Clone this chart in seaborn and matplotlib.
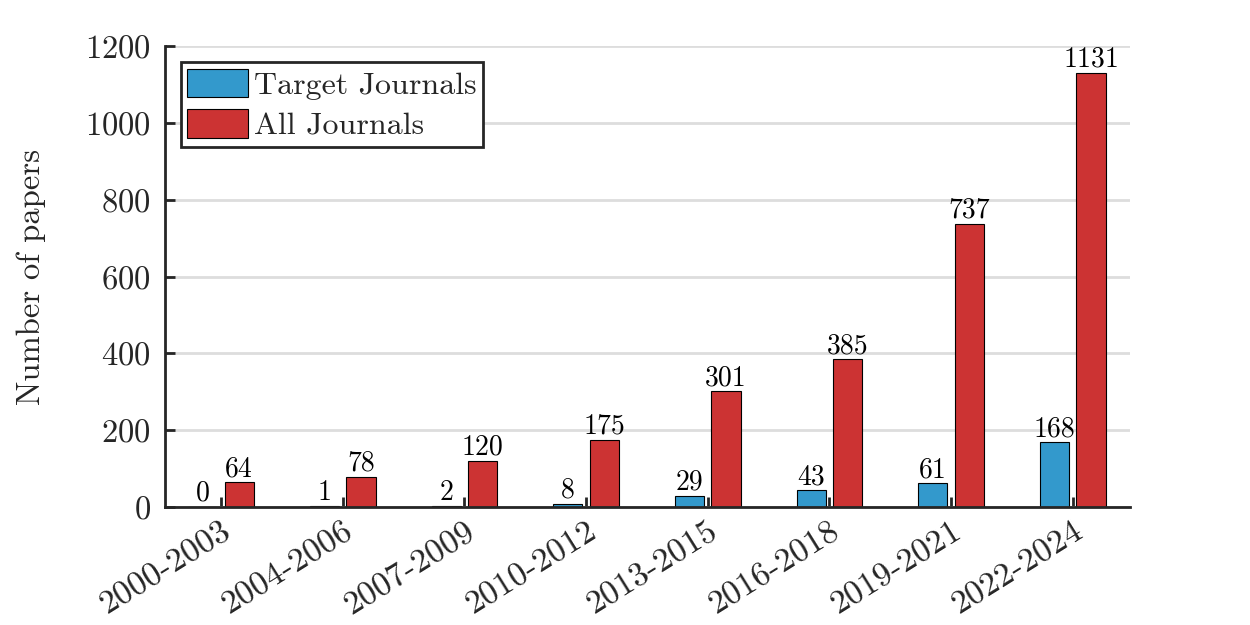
import matplotlib
matplotlib.use("Agg")
import matplotlib.pyplot as plt
import seaborn as sns
import numpy as np
import pandas as pd

# Data
periods = ["2000-2003", "2004-2006", "2007-2009", "2010-2012",
           "2013-2015", "2016-2018", "2019-2021", "2022-2024"]
target_journals = [0, 1, 2, 8, 29, 43, 61, 168]
all_journals = [64, 78, 120, 175, 301, 385, 737, 1131]
series_names = ["Target Journals", "All Journals"]
colors = ["#3399CC", "#CC3333"]

df = pd.DataFrame({
    "period": periods * 2,
    "count": target_journals + all_journals,
    "source": [series_names[0]] * len(periods) + [series_names[1]] * len(periods),
})

sns.set_style("white")
plt.rcParams["font.family"] = ["cmr10", "DejaVu Serif"]
plt.rcParams["mathtext.fontset"] = "cm"
plt.rcParams["axes.formatter.use_mathtext"] = True

fig, ax = plt.subplots(figsize=(12.5, 6.25), dpi=100)
fig.subplots_adjust(left=0.132, right=0.904, top=0.926, bottom=0.189)

sns.barplot(data=df, x="period", y="count", hue="source", palette=colors,
            saturation=1, width=0.6, gap=0.2, edgecolor="black",
            linewidth=0.8, ax=ax)

# value labels
for cont in ax.containers:
    ax.bar_label(cont, fmt="%d", padding=0, fontsize=20, color="black")

ax.set_ylim(0, 1200)
ax.set_xlim(-0.46, 7.47)
ax.set_yticks(np.arange(0, 1201, 200))
ax.yaxis.grid(True, color="#dddddd", linewidth=2)
ax.set_axisbelow(True)
ax.set_xlabel("")
ax.set_ylabel("Number of papers", fontsize=23.5, labelpad=28)

for side in ["top", "right"]:
    ax.spines[side].set_visible(False)
for side in ["left", "bottom"]:
    ax.spines[side].set_color("#262626")
    ax.spines[side].set_linewidth(2)

ax.tick_params(axis="both", direction="in", labelsize=23.5, colors="#262626",
               width=2, length=7, bottom=True, left=True)
ax.tick_params(axis="y", pad=10)
ax.tick_params(axis="x", labelsize=24.5, pad=7)
plt.setp(ax.get_xticklabels(), rotation=32, ha="right", rotation_mode="anchor")

leg = ax.legend(loc="upper left", fontsize=23, frameon=True, fancybox=False,
                edgecolor="#262626", handlelength=1.9, handleheight=1.0,
                borderpad=0.2, labelspacing=0.3, handletextpad=0.2,
                borderaxespad=0.5)
leg.get_frame().set_linewidth(2)
leg.get_frame().set_alpha(1)

fig.savefig("out.png", dpi=100)
